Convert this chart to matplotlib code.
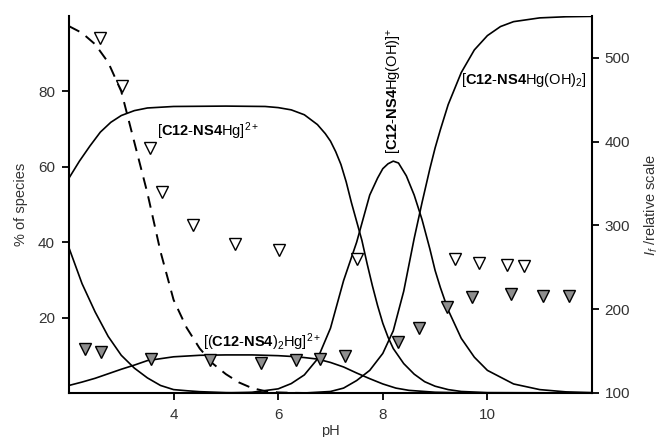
import matplotlib
matplotlib.use('Agg')
import matplotlib.pyplot as plt

# --- species distribution curves (% of species) ---
ph_a = [2.0, 2.25, 2.5, 2.75, 3.0, 3.25, 3.5, 3.75, 4.0, 4.25, 4.5, 5.0, 5.5, 6.0, 12.0]
pct_a = [38.5, 29.0, 21.5, 15.0, 10.0, 6.6, 4.0, 2.0, 0.9, 0.6, 0.35, 0.1, 0.03, 0.0, 0.0]

ph_hg = [2.0, 2.2, 2.4, 2.6, 2.8, 3.0, 3.25, 3.5, 4.0, 5.0, 5.75, 6.0, 6.25, 6.5, 6.75,
         6.9, 7.0, 7.1, 7.2, 7.3, 7.4, 7.5, 7.6, 7.7, 7.8, 7.9, 8.0, 8.1, 8.2, 8.4, 8.6,
         8.8, 9.0, 9.25, 9.5, 10.0, 12.0]
pct_hg = [57.0, 61.5, 65.5, 69.2, 71.8, 73.6, 74.9, 75.6, 76.0, 76.1, 76.0, 75.7, 75.1, 73.8, 71.2,
          68.8, 66.8, 64.0, 60.6, 56.0, 50.5, 45.5, 40.5, 34.3, 28.5, 23.2, 18.5, 14.8, 11.8, 7.8, 5.0,
          3.0, 1.8, 0.9, 0.4, 0.1, 0.0]

ph_oh = [5.0, 5.5, 6.0, 6.25, 6.5, 6.75, 7.0, 7.25, 7.5, 7.75, 7.9, 8.0, 8.1, 8.2, 8.3,
         8.45, 8.6, 8.75, 8.9, 9.0, 9.1, 9.25, 9.5, 9.75, 10.0, 10.5, 11.0, 11.5, 12.0]
pct_oh = [0.0, 0.2, 1.1, 2.5, 4.8, 9.0, 17.2, 29.8, 40.0, 52.5, 57.0, 59.5, 60.8, 61.5, 61.0,
          57.6, 52.5, 46.0, 38.2, 32.5, 28.0, 22.0, 14.5, 9.5, 6.0, 2.4, 0.9, 0.3, 0.1]

ph_oh2 = [6.5, 7.0, 7.25, 7.5, 7.75, 8.0, 8.2, 8.4, 8.6, 8.75, 8.9, 9.0, 9.1, 9.25, 9.5, 9.75,
          10.0, 10.25, 10.5, 11.0, 11.5, 12.0]
pct_oh2 = [0.0, 0.4, 1.3, 3.3, 6.0, 10.5, 16.5, 27.0, 41.0, 50.5, 59.5, 65.0, 69.8, 76.5, 85.0, 91.0,
           94.8, 97.2, 98.5, 99.5, 99.8, 99.9]

ph_l2 = [2.0, 2.25, 2.5, 2.75, 3.0, 3.25, 3.5, 3.75, 4.0, 4.5, 5.0, 5.5, 6.0, 6.25, 6.5,
         6.75, 7.0, 7.25, 7.5, 7.75, 8.0, 8.25, 8.5, 9.0, 9.5, 10.0, 12.0]
pct_l2 = [2.0, 2.9, 3.9, 5.1, 6.3, 7.4, 8.6, 9.1, 9.6, 10.0, 10.1, 10.1, 9.9, 9.7, 9.4,
          9.0, 8.1, 6.9, 5.3, 3.8, 2.4, 1.3, 0.7, 0.2, 0.05, 0.0, 0.0]

# dashed fit
ph_fit = [2.0, 2.25, 2.5, 2.75, 3.0, 3.25, 3.5, 3.75, 4.0, 4.25, 4.5, 4.75, 5.0, 5.25,
          5.5, 5.75, 6.0, 6.25, 6.5]
pct_fit = [97.3, 95.5, 92.5, 87.7, 80.0, 66.5, 53.0, 37.5, 24.7, 17.3, 11.8, 7.8, 5.0, 2.8,
           1.3, 0.5, 0.15, 0.05, 0.0]

# --- fluorescence intensities (right axis) ---
open_ph = [2.59, 3.01, 3.55, 3.77, 4.38, 5.17, 6.02, 7.50, 9.38, 9.84, 10.38, 10.69]
open_if = [524, 467, 392, 340, 301, 278, 271, 260, 260, 255, 253, 251]

gray_ph = [2.31, 2.61, 3.56, 4.70, 5.68, 6.34, 6.79, 7.28, 8.30, 8.70, 9.22, 9.70, 10.46, 11.06, 11.56]
gray_if = [153, 149, 141, 139, 136, 139, 141, 144, 161, 177, 203, 214, 218, 216, 216]

x_ticks = [4, 6, 8, 10]
left_ticks = [20, 40, 60, 80]
right_ticks = [100, 200, 300, 400, 500]

plt.rcParams['font.family'] = ['Liberation Sans', 'DejaVu Sans']
plt.rcParams['mathtext.fontset'] = 'custom'
plt.rcParams['mathtext.rm'] = 'Liberation Sans'
plt.rcParams['mathtext.bf'] = 'Liberation Sans:bold'
plt.rcParams['mathtext.it'] = 'Liberation Sans:italic'
plt.rcParams['mathtext.default'] = 'regular'

fig = plt.figure(figsize=(6.6, 4.37), dpi=100)
ax = fig.add_axes([0.1045, 0.1007, 0.7925, 0.8627])
ax2 = ax.twinx()

lw = 1.2
for xs, ys in [(ph_a, pct_a), (ph_hg, pct_hg), (ph_oh, pct_oh), (ph_oh2, pct_oh2), (ph_l2, pct_l2)]:
    ax.plot(xs, ys, color='black', lw=lw, solid_joinstyle='round')
ax.plot(ph_fit, pct_fit, color='black', lw=1.4, dashes=(6, 4))

ax2.plot(open_ph, open_if, linestyle='none', marker='v', ms=9, mfc='white', mec='black', mew=1.0)
ax2.plot(gray_ph, gray_if, linestyle='none', marker='v', ms=9, mfc='#8e8e8e', mec='black', mew=1.0)

ax.set_xlim(2, 12)
ax.set_ylim(0, 100)
ax2.set_ylim(100, 550)
ax.set_xticks(x_ticks)
ax.set_yticks(left_ticks)
ax2.set_yticks(right_ticks)

for a in (ax, ax2):
    a.spines['top'].set_visible(False)
    for s in a.spines.values():
        s.set_linewidth(1.5)
ax.spines['right'].set_visible(False)
ax2.spines['left'].set_visible(False)
ax2.spines['bottom'].set_visible(False)

tc = '#333333'
ax.tick_params(axis='y', direction='out', length=5, width=1.3, labelsize=11, pad=5, colors='black', labelcolor=tc)
ax.tick_params(axis='x', direction='out', length=5, width=1.3, labelsize=11, pad=6, colors='black', labelcolor=tc)
ax2.tick_params(axis='y', direction='out', length=5, width=1.3, labelsize=11, pad=4, colors='black', labelcolor=tc)

ax.set_xlabel('pH', fontsize=10.5, color=tc, labelpad=1)
ax.set_ylabel('% of species', fontsize=10.5, color=tc, labelpad=7)
ax2.set_ylabel(r'$\mathit{I_f}$ /relative scale', fontsize=10.5, color=tc, labelpad=9)

fs = 10.5
ax.text(3.68, 69.5, r'[$\mathbf{C12\text{-}NS4}$Hg]$^{2+}$', fontsize=fs, ha='left', va='center')
ax.text(4.56, 13.6, r'[($\mathbf{C12\text{-}NS4}$)$_2$Hg]$^{2+}$', fontsize=fs, ha='left', va='center')
ax.text(8.23, 63.5, r'[$\mathbf{C12\text{-}NS4}$Hg(OH)]$^{+}$', fontsize=fs, ha='center', va='bottom', rotation=90)
ax.text(11.9, 83, r'[$\mathbf{C12\text{-}NS4}$Hg(OH)$_2$]', fontsize=fs, ha='right', va='center')

fig.savefig('out.png', dpi=100)
